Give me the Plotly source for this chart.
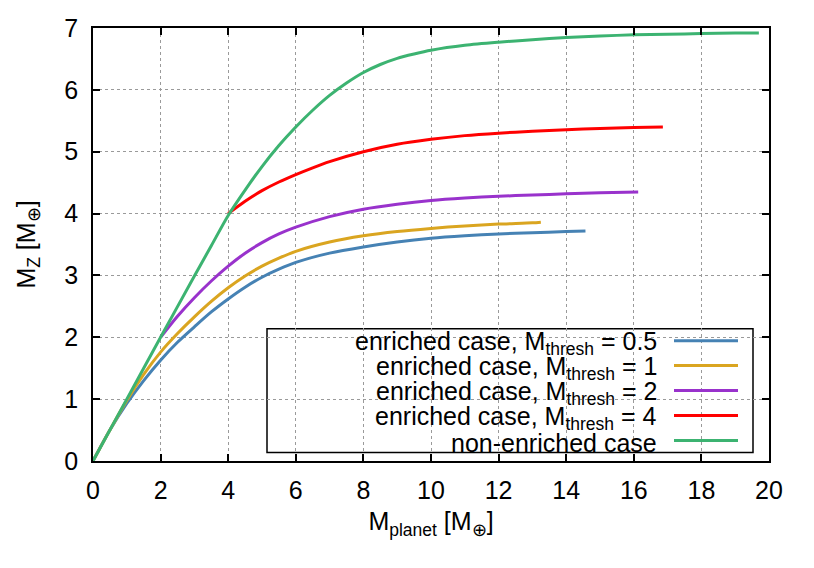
import plotly.graph_objects as go

# curves: planet mass vs heavy-element mass
x_nonenriched = [0, 1, 2, 3, 3.5, 4, 4.5, 5, 5.5, 6, 6.5, 7, 7.5, 8, 8.5, 9, 9.5,
                 10, 11, 12, 13, 14, 15, 16, 17, 18, 19, 19.7]
y_nonenriched = [0, 1.0, 2.0, 2.99, 3.48, 3.97, 4.38, 4.76, 5.1, 5.4, 5.67, 5.91, 6.11,
                 6.28, 6.41, 6.51, 6.58, 6.64, 6.72, 6.77, 6.81, 6.845, 6.87, 6.89, 6.9,
                 6.91, 6.92, 6.92]

x_t4 = [4, 4.5, 5, 5.5, 6, 6.5, 7, 8, 9, 10, 11, 12, 13, 14, 15, 16, 16.86]
y_t4 = [4.0, 4.2, 4.37, 4.51, 4.63, 4.74, 4.84, 5.0, 5.12, 5.2, 5.26, 5.3, 5.33, 5.355,
        5.375, 5.39, 5.4]

x_t2 = [2, 2.5, 3, 3.5, 4, 4.5, 5, 5.5, 6, 7, 8, 9, 10, 11, 12, 13, 14, 15, 16.13]
y_t2 = [2.0, 2.34, 2.64, 2.91, 3.15, 3.36, 3.53, 3.67, 3.78, 3.95, 4.07, 4.15, 4.21, 4.25,
        4.28, 4.3, 4.32, 4.335, 4.35]

x_t1 = [0, 0.5, 1, 1.5, 2, 2.5, 3, 3.5, 4, 4.5, 5, 5.5, 6, 7, 8, 9, 10, 11, 12, 13, 13.25]
y_t1 = [0, 0.5, 0.98, 1.4, 1.76, 2.06, 2.33, 2.58, 2.8, 2.99, 3.15, 3.28, 3.39, 3.54, 3.64,
        3.71, 3.76, 3.8, 3.83, 3.85, 3.86]

x_t05 = [0, 0.5, 1, 1.5, 2, 2.5, 3, 3.5, 4, 4.5, 5, 5.5, 6, 7, 8, 9, 10, 11, 12, 13, 14, 14.57]
y_t05 = [0, 0.5, 0.93, 1.3, 1.63, 1.92, 2.17, 2.41, 2.62, 2.81, 2.97, 3.1, 3.21, 3.36, 3.46,
         3.54, 3.6, 3.64, 3.67, 3.69, 3.71, 3.72]

labels = ["enriched case, M<sub>thresh</sub> = 0.5",
          "enriched case, M<sub>thresh</sub> = 1",
          "enriched case, M<sub>thresh</sub> = 2",
          "enriched case, M<sub>thresh</sub> = 4",
          "non-enriched case"]
colors = ["#4682b4", "#daa520", "#9932cc", "#ff0000", "#3cb371"]
series = [(x_t05, y_t05), (x_t1, y_t1), (x_t2, y_t2), (x_t4, y_t4),
          (x_nonenriched, y_nonenriched)]

W, H = 814, 568
PAGE_OFF = 8  # default body margin of the html page
# plot area in window pixels: x 93..769, y 28..461.5
PX0, PX1, PY0, PY1 = 93, 769, 28, 461.5
L, T = PX0 - PAGE_OFF, PY0 - PAGE_OFF
R = W - L - (PX1 - PX0)
B = H - T - (PY1 - PY0)


def paper(px, py):
    return (px - PX0) / (PX1 - PX0), (PY1 - py) / (PY1 - PY0)


FONT = "Liberation Sans, Arial, Helvetica, sans-serif"
FS = 25

fig = go.Figure()
for (xs, ys), c, name in zip(series, colors, labels):
    fig.add_trace(go.Scatter(x=xs, y=ys, mode="lines", name=name,
                             line=dict(color=c, width=3, shape="spline", smoothing=0.8)))

# gnuplot-like key box: text right-aligned, sample line on the right
bx0, by0 = paper(267, 453)
bx1, by1 = paper(753, 329)
fig.add_shape(type="rect", xref="paper", yref="paper", x0=bx0, y0=by0, x1=bx1, y1=by1,
              line=dict(color="black", width=1.5), fillcolor="white", layer="below")
for i, (name, c) in enumerate(zip(labels, colors)):
    row_y = 341 + 25 * i
    lx0, ly = paper(674, row_y)
    lx1, _ = paper(738, row_y)
    fig.add_shape(type="line", xref="paper", yref="paper", x0=lx0, x1=lx1, y0=ly, y1=ly,
                  line=dict(color=c, width=3))
    tx, ty = paper(659, row_y + 2)
    fig.add_annotation(x=tx, y=ty, xref="paper", yref="paper", text=name, showarrow=False,
                       xanchor="right", yanchor="middle", font=dict(size=FS, color="black"))

axis_common = dict(showline=True, linecolor="black", linewidth=1.5, mirror="ticks",
                   ticks="inside", ticklen=7, tickwidth=1.5, tickcolor="black",
                   showgrid=True, gridcolor="#9a9a9a", griddash="dot", gridwidth=1,
                   zeroline=False, tickfont=dict(size=FS, color="black"))

fig.update_xaxes(range=[0, 20], dtick=2, tick0=0,
                 title=dict(text="M<sub>planet</sub> [M<sub>⊕</sub>]",
                            font=dict(size=FS, color="black"), standoff=10),
                 ticklabelstandoff=6, **axis_common)
fig.update_yaxes(range=[0, 7], dtick=1, tick0=0,
                 title=dict(text="M<sub>Z</sub> [M<sub>⊕</sub>]",
                            font=dict(size=FS, color="black"), standoff=22),
                 ticklabelstandoff=8, **axis_common)

fig.update_layout(width=W, height=H, margin=dict(l=L, r=R, t=T, b=B, autoexpand=False),
                  plot_bgcolor="white", paper_bgcolor="white", showlegend=False,
                  font=dict(family=FONT, color="black"))

fig.write_html("out.html")
